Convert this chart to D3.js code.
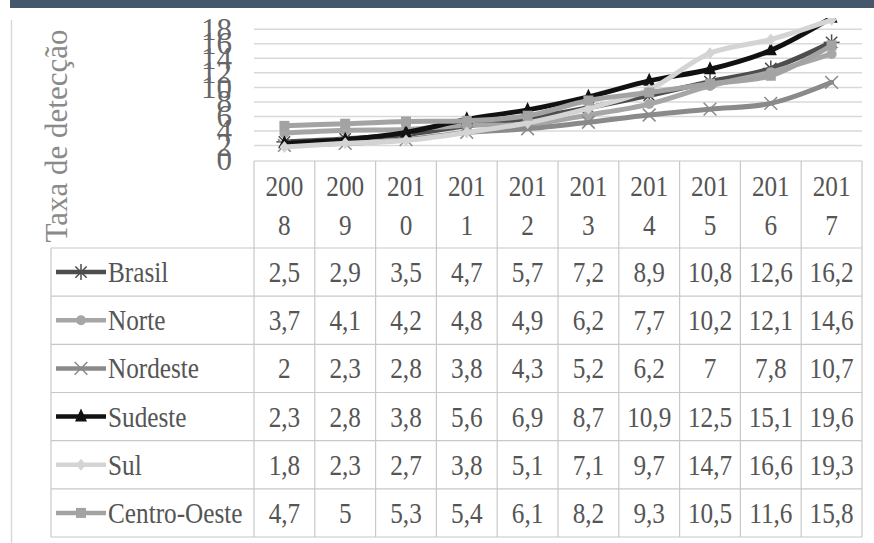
<!DOCTYPE html>
<html>
<head>
<meta charset="utf-8">
<script src="https://cdn.jsdelivr.net/npm/d3@7"></script>
<style>
  body { margin: 0; background: #fff; }
  text { font-family: "Liberation Serif", "DejaVu Serif", serif; }
</style>
</head>
<body>
<div id="chart"></div>
<script>
var years = ["2008", "2009", "2010", "2011", "2012", "2013", "2014", "2015", "2016", "2017"];
var seriesNames = ["Brasil", "Norte", "Nordeste", "Sudeste", "Sul", "Centro-Oeste"];
var brasil = [2.5, 2.9, 3.5, 4.7, 5.7, 7.2, 8.9, 10.8, 12.6, 16.2];
var norte = [3.7, 4.1, 4.2, 4.8, 4.9, 6.2, 7.7, 10.2, 12.1, 14.6];
var nordeste = [2, 2.3, 2.8, 3.8, 4.3, 5.2, 6.2, 7, 7.8, 10.7];
var sudeste = [2.3, 2.8, 3.8, 5.6, 6.9, 8.7, 10.9, 12.5, 15.1, 19.6];
var sul = [1.8, 2.3, 2.7, 3.8, 5.1, 7.1, 9.7, 14.7, 16.6, 19.3];
var centroOeste = [4.7, 5, 5.3, 5.4, 6.1, 8.2, 9.3, 10.5, 11.6, 15.8];
var yTicks = [0, 2, 4, 6, 8, 10, 12, 14, 16, 18];

var seriesValues = [brasil, norte, nordeste, sudeste, sul, centroOeste];
var seriesColors = ["#4d4d4d", "#a6a6a6", "#8a8a8a", "#111111", "#d4d4d4", "#a3a3a3"];
var seriesMarkers = ["star", "circle", "x", "triangle", "diamond", "square"];

var svgWidth = 874;
var svgHeight = 543;

var svg = d3.select("#chart")
  .append("svg")
  .attr("width", svgWidth)
  .attr("height", svgHeight)
  .attr("font-family", "Liberation Serif");

// top band and left frame line
svg.append("rect")
  .attr("x", 10).attr("y", 0)
  .attr("width", svgWidth - 10).attr("height", 8)
  .attr("fill", "#46566b");

svg.append("line")
  .attr("x1", 11.5).attr("x2", 11.5)
  .attr("y1", 20).attr("y2", svgHeight)
  .attr("stroke", "#d9d9d9").attr("stroke-width", 1.5);

// scales
var tableLeft = 254, tableRight = 862;
var x = d3.scaleBand().domain(years).range([tableLeft, tableRight]);
var y = d3.scaleLinear().domain([0, 18]).range([160, 29.3]);
var row = d3.scaleBand().domain(seriesNames).range([248, 537]);
var cx = function(yr) { return x(yr) + x.bandwidth() / 2; };

// gridlines
svg.append("g")
  .selectAll("line")
  .data(yTicks.slice(1))
  .enter()
  .append("line")
  .attr("x1", tableLeft).attr("x2", tableRight)
  .attr("y1", d => y(d)).attr("y2", d => y(d))
  .attr("stroke", "#d9d9d9").attr("stroke-width", 1.5);

// y axis labels (tall, overlapping like the original)
var yAxis = svg.append("g")
  .attr("transform", "translate(232,0)")
  .call(d3.axisLeft(y).tickValues(yTicks).tickSize(0).tickPadding(0));
yAxis.attr("font-family", "Liberation Serif");
yAxis.select(".domain").remove();
yAxis.selectAll("text")
  .attr("font-size", 31)
  .attr("fill", "#666666");

// y axis title
svg.append("text")
  .attr("transform", "translate(67,136) rotate(-90)")
  .attr("text-anchor", "middle")
  .attr("font-size", 31)
  .attr("fill", "#8a8a8a")
  .text("Taxa de detecção");

// marker helper
function drawMarker(g, type, mx, my, color) {
  if (type === "star") {
    [0, 45, 90, 135].forEach(function(a) {
      var r = a * Math.PI / 180, s = 8;
      g.append("line")
        .attr("x1", mx - s * Math.sin(r)).attr("y1", my - s * Math.cos(r))
        .attr("x2", mx + s * Math.sin(r)).attr("y2", my + s * Math.cos(r))
        .attr("stroke", color).attr("stroke-width", 1.5);
    });
  } else if (type === "x") {
    [45, 135].forEach(function(a) {
      var r = a * Math.PI / 180, s = 9;
      g.append("line")
        .attr("x1", mx - s * Math.sin(r)).attr("y1", my - s * Math.cos(r))
        .attr("x2", mx + s * Math.sin(r)).attr("y2", my + s * Math.cos(r))
        .attr("stroke", color).attr("stroke-width", 1.5);
    });
  } else if (type === "circle") {
    g.append("circle").attr("cx", mx).attr("cy", my).attr("r", 5).attr("fill", color);
  } else if (type === "triangle") {
    g.append("path")
      .attr("d", `M${mx},${my - 8}L${mx + 6},${my + 5}L${mx - 6},${my + 5}Z`)
      .attr("fill", color);
  } else if (type === "diamond") {
    g.append("path")
      .attr("d", `M${mx},${my - 6}L${mx + 5},${my}L${mx},${my + 6}L${mx - 5},${my}Z`)
      .attr("fill", color);
  } else {
    g.append("rect")
      .attr("x", mx - 5).attr("y", my - 5).attr("width", 10).attr("height", 10)
      .attr("fill", color);
  }
}

// lines (clipped at plot top)
svg.append("clipPath").attr("id", "plotClip")
  .append("rect").attr("x", tableLeft).attr("y", 18)
  .attr("width", tableRight - tableLeft).attr("height", 143);

var plot = svg.append("g").attr("clip-path", "url(#plotClip)");

var line = d3.line()
  .x((d, i) => cx(years[i]))
  .y(d => y(d))
  .curve(d3.curveCatmullRom.alpha(0.5));

seriesValues.forEach(function(vals, s) {
  var g = plot.append("g");
  g.append("path")
    .attr("d", line(vals))
    .attr("fill", "none")
    .attr("stroke", seriesColors[s])
    .attr("stroke-width", 5)
    .attr("stroke-linejoin", "round")
    .attr("stroke-linecap", "round");
  vals.forEach(function(v, i) {
    drawMarker(g, seriesMarkers[s], cx(years[i]), y(v), seriesColors[s]);
  });
});

// data table
var grid = svg.append("g")
  .attr("stroke", "#c8c8c8").attr("stroke-width", 1.2);

// horizontal lines
grid.append("line")
  .attr("x1", tableLeft).attr("x2", tableRight)
  .attr("y1", 161).attr("y2", 161);
seriesNames.forEach(function(n) {
  grid.append("line")
    .attr("x1", 51).attr("x2", tableRight)
    .attr("y1", row(n)).attr("y2", row(n));
});
grid.append("line")
  .attr("x1", 51).attr("x2", tableRight)
  .attr("y1", 537).attr("y2", 537);

// vertical lines
years.forEach(function(yr) {
  grid.append("line")
    .attr("x1", x(yr)).attr("x2", x(yr))
    .attr("y1", 161).attr("y2", 537);
});
grid.append("line")
  .attr("x1", tableRight).attr("x2", tableRight)
  .attr("y1", 161).attr("y2", 537);
grid.append("line")
  .attr("x1", 51).attr("x2", 51)
  .attr("y1", 248).attr("y2", 537);

// condensed serif text helper
function ctext(g, tx, ty, str, anchor) {
  g.append("text")
    .attr("transform", `translate(${tx},${ty}) scale(0.87,1)`)
    .attr("text-anchor", anchor)
    .attr("font-family", "Liberation Serif")
    .attr("font-size", 29)
    .attr("fill", "#555555")
    .text(str);
}

var tableText = svg.append("g");

// header years split in two lines
years.forEach(function(yr) {
  ctext(tableText, cx(yr), 196, yr.slice(0, 3), "middle");
  ctext(tableText, cx(yr), 235, yr.slice(3), "middle");
});

// rows: legend key + values
seriesNames.forEach(function(n, s) {
  var rc = row(n) + row.bandwidth() / 2;
  var key = svg.append("g");
  key.append("line")
    .attr("x1", 56).attr("x2", 106)
    .attr("y1", rc).attr("y2", rc)
    .attr("stroke", seriesColors[s]).attr("stroke-width", 4.5);
  drawMarker(key, seriesMarkers[s], 81, rc, seriesColors[s]);
  ctext(tableText, 108, rc + 10, n, "start");

  seriesValues[s].forEach(function(v, i) {
    ctext(tableText, cx(years[i]), rc + 10, String(v).replace(".", ","), "middle");
  });
});
</script>
</body>
</html>
